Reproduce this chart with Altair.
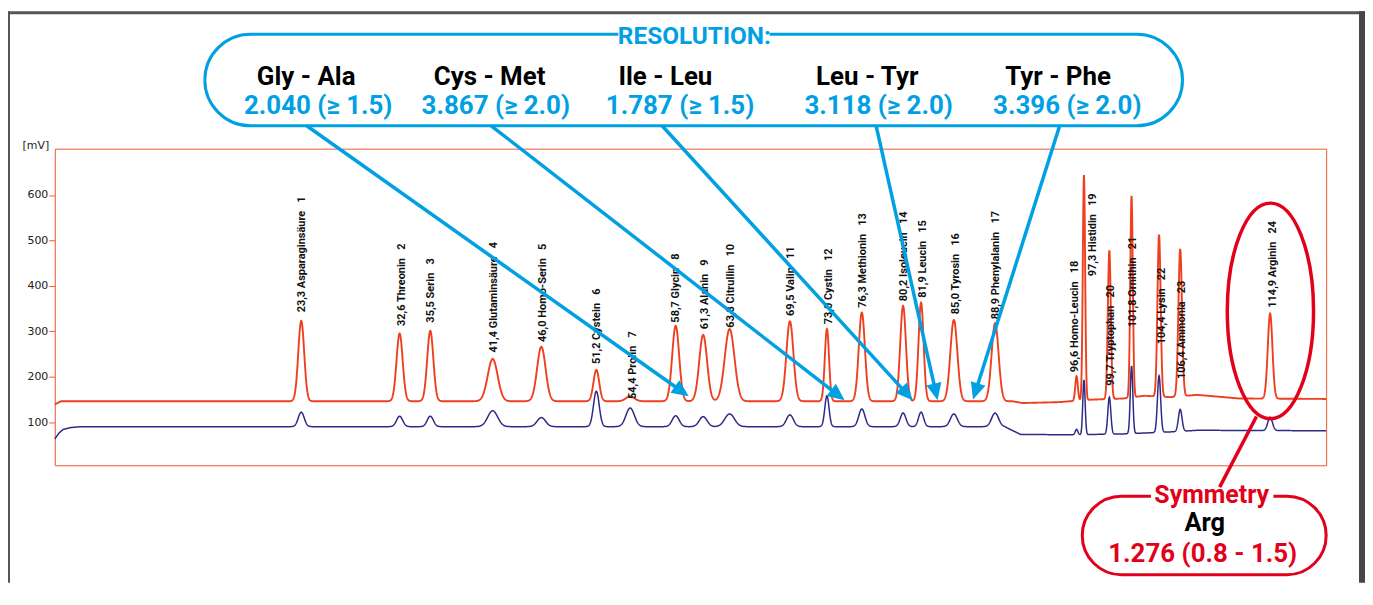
import numpy as np
import pandas as pd
import altair as alt

# ---------------- data ----------------
peak_num = list(range(1, 25))
peak_name = ["Asparaginsäure", "Threonin", "Serin", "Glutaminsäure", "Homo-Serin",
             "Cystein", "Prolin", "Glycin", "Alanin", "Citrullin", "Valin", "Cystin",
             "Methionin", "Isoleucin", "Leucin", "Tyrosin", "Phenylalanin",
             "Homo-Leucin", "Histidin", "Tryptophan", "Ornithin", "Lysin",
             "Ammonia", "Arginin"]
peak_time = [23.3, 32.6, 35.5, 41.4, 46.0, 51.2, 54.4, 58.7, 61.3, 63.8, 69.5, 73.0,
             76.3, 80.2, 81.9, 85.0, 88.9, 96.6, 97.3, 99.7, 101.8, 104.4, 106.4, 114.9]
red_height = [323, 295, 301, 239, 266, 215, 157, 312, 292, 305, 322, 305,
              341, 356, 363, 325, 318, 201, 644, 478, 598, 513, 481, 339]
blue_height = [122, 113, 113, 125, 110, 168, 131, 114, 112, 118, 116, 158,
               129, 120, 122, 118, 120, 84, 193, 155, 224, 202, 128, 111]
peak_sigma = [0.28, 0.29, 0.29, 0.47, 0.40, 0.27, 0.40, 0.33, 0.37, 0.46, 0.33, 0.20,
              0.29, 0.27, 0.24, 0.33, 0.33, 0.12, 0.11, 0.14, 0.12, 0.15, 0.17, 0.22]

red_base_t = [0, 0.6, 90.5, 91.5, 95, 97.5, 101, 103, 105.5, 108, 112, 120.2]
red_base_v = [139, 146, 146, 142, 144, 149, 152, 158, 155, 160, 152, 151]
blue_base_t = [0, 0.4, 0.8, 1.5, 2.5, 89.8, 90.5, 91.3, 96, 101, 103, 106, 108, 120.2]
blue_base_v = [63, 76, 84, 88, 90, 90, 82, 73, 72, 74, 76, 79, 82, 81]

# where each peak's label starts (minutes, mV)
label_t = [23.37, 32.78, 35.55, 41.51, 46.12, 51.23, 54.69, 58.76, 61.44, 63.91, 69.65,
           73.2, 76.4, 80.32, 82.05, 85.18, 89.02, 96.48, 98.17, 99.87, 101.97, 104.64,
           106.58, 115.15]
label_v = [341.6, 311.6, 319, 253.3, 276.5, 227.7, 151, 319, 304.3, 308, 333.5, 315.3,
           351.9, 366.3, 373.8, 337.2, 326.2, 210, 421, 180, 308.7, 271.5, 194.8, 351.9]

y_ticks = [100, 200, 300, 400, 500, 600]

res_pairs = ["Gly - Ala", "Cys - Met", "Ile - Leu", "Leu - Tyr", "Tyr - Phe"]
res_values = ["2.040 (≥ 1.5)", "3.867 (≥ 2.0)", "1.787 (≥ 1.5)", "3.118 (≥ 2.0)", "3.396 (≥ 2.0)"]

# ---------------- styles / layout ----------------
RED_TRACE = "#ee3f1f"
BLUE_TRACE = "#2e2a86"
FRAME = "#ec5a30"
ANN_BLUE = "#00a0e3"
ANN_RED = "#e2001a"
BOLD_FONT = "Roboto"
W, H = 1277, 318
T_MAX, V_MIN, V_MAX = 120.2, 5, 702


def dx(p):
    # plot-area pixel -> minutes (inverse of the x scale)
    return p * T_MAX / W


def dy(p):
    # plot-area pixel -> mV (inverse of the y scale)
    return V_MAX - p * (V_MAX - V_MIN) / H


# ---------------- build traces ----------------
t = np.round(np.arange(0, T_MAX + 1e-9, 0.02), 3)


def trace(bt, bv, heights):
    y = np.interp(t, bt, bv)
    for tp, h, s in zip(peak_time, heights, peak_sigma):
        amp = h - np.interp(tp, bt, bv)
        y = y + amp * np.exp(-0.5 * ((t - tp) / s) ** 2)
    return np.round(y, 2)


df_red = pd.DataFrame({"t": t, "v": trace(red_base_t, red_base_v, red_height)})
df_blue = pd.DataFrame({"t": t, "v": trace(blue_base_t, blue_base_v, blue_height)})

NB = "\u00a0"
df_lab = pd.DataFrame({
    "lt": label_t, "lv": label_v,
    "label": [f"{tm:.1f}".replace(".", ",") + " " + nm + NB * 3 + str(n)
              for tm, nm, n in zip(peak_time, peak_name, peak_num)],
})

xs = alt.Scale(domain=[0, T_MAX], nice=False, zero=False)
ys = alt.Scale(domain=[V_MIN, V_MAX], nice=False, zero=False)
YAX = alt.Axis(values=y_ticks, title=None, grid=False, domain=False, tickColor=FRAME,
               tickSize=6, tickWidth=1, labelPadding=1, labelFont="DejaVu Sans",
               labelFontSize=11, labelColor="#222")


def X(c):
    return alt.X(c + ":Q", scale=xs, axis=None)


def Y(c):
    # every layer carries the same axis definition so the shared axis stays visible
    return alt.Y(c + ":Q", scale=ys, axis=YAX)


red = alt.Chart(df_red).mark_line(color=RED_TRACE, strokeWidth=1.9).encode(
    x=X("t"), y=Y("v"))
blue = alt.Chart(df_blue).mark_line(color=BLUE_TRACE, strokeWidth=1.5).encode(
    x=X("t"), y=Y("v"))
labels = alt.Chart(df_lab).mark_text(angle=270, align="left", baseline="middle",
                                     font=BOLD_FONT, fontSize=11, fontWeight="bold",
                                     color="#111").encode(
    x=X("lt"), y=Y("lv"), text="label:N")

# ---------------- annotations (positions given in plot pixels, mapped to data) ----------------
frame_px = [(-47, 1316, -138, -135, "#555555"), (-47, -45, -138, 436, "#555555"),
            (1310, 1316, -138, 436, "#464646")]
frame_df = pd.DataFrame({"x": [dx(a) for a, _, _, _, _ in frame_px],
                         "x2": [dx(b) for _, b, _, _, _ in frame_px],
                         "y": [dy(c) for _, _, c, _, _ in frame_px],
                         "y2": [dy(d) for _, _, _, d, _ in frame_px],
                         "c": [e for *_, e in frame_px]})
frame = alt.Chart(frame_df).mark_rect().encode(
    x=X("x"), x2="x2:Q", y=Y("y"), y2="y2:Q", color=alt.Color("c:N", scale=None))

ylab = alt.Chart(pd.DataFrame({"x": [dx(-19)], "y": [dy(-3)], "s": ["[mV]"]})).mark_text(
    font="DejaVu Sans", fontSize=11, color="#222", align="center", baseline="middle"
).encode(x=X("x"), y=Y("y"), text="s:N")

arrow_start = [(253, -23), (438.3, -23), (610, -23), (825, -23), (1009.3, -23)]
arrow_tip = [(636.7, 248.7), (793.3, 252.7), (861.7, 252.7), (886.7, 252.7), (922.3, 252)]
rows = []
for (x0, y0), (x1, y1) in zip(arrow_start, arrow_tip):
    ddx, ddy = x1 - x0, y1 - y0
    L = np.hypot(ddx, ddy)
    ang = float(np.degrees(np.arctan2(ddx, -ddy)) % 360)
    rows.append({"x0": dx(x0), "y0": dy(y0),
                 "xe": dx(x1 - 10 * ddx / L), "ye": dy(y1 - 10 * ddy / L),
                 "tx": dx(x1), "ty": dy(y1), "ang": ang})
arr_df = pd.DataFrame(rows)
arrow_lines = alt.Chart(arr_df).mark_rule(color=ANN_BLUE, strokeWidth=3.5).encode(
    x=X("x0"), y=Y("y0"), x2="xe:Q", y2="ye:Q")
arrow_heads = alt.Chart(arr_df).mark_point(
    shape="M 0 0 L -0.45 1 L 0.45 1 Z", filled=True, size=1156, opacity=1,
    color=ANN_BLUE, strokeWidth=0).encode(
    x=X("tx"), y=Y("ty"), angle=alt.Angle("ang:Q", scale=None))

one = pd.DataFrame({"a": [0]})
res_box = alt.Chart(one).mark_rect(fillOpacity=0, stroke=ANN_BLUE, strokeWidth=3,
                                   cornerRadius=46).encode(
    x=alt.value(150.7), x2=alt.value(1132.7), y=alt.value(-115), y2=alt.value(-23))
sym_box = alt.Chart(one).mark_rect(fillOpacity=0, stroke=ANN_RED, strokeWidth=3,
                                   cornerRadius=39.5).encode(
    x=alt.value(1032), x2=alt.value(1277), y=alt.value(349), y2=alt.value(428))
knock_res = alt.Chart(one).mark_rect(color="white").encode(
    x=alt.value(566), x2=alt.value(718), y=alt.value(-121), y2=alt.value(-109))
knock_sym = alt.Chart(one).mark_rect(color="white").encode(
    x=alt.value(1101), x2=alt.value(1224), y=alt.value(343), y2=alt.value(355))

sym_line = alt.Chart(one).mark_rule(color=ANN_RED, strokeWidth=3.5).encode(
    x=alt.value(1207), y=alt.value(269), x2=alt.value(1170), y2=alt.value(340))

ellipse = alt.Chart(one).mark_point(
    shape=("M 0.4 0 C 0.4 0.5523 0.2209 1 0 1 C -0.2209 1 -0.4 0.5523 -0.4 0 "
           "C -0.4 -0.5523 -0.2209 -1 0 -1 C 0.2209 -1 0.4 -0.5523 0.4 0 Z"),
    filled=False, size=46920, opacity=1, color=ANN_RED, strokeWidth=3.5).encode(
    x=alt.value(1221), y=alt.value(163))

txt_px_x = [642.4, 252.5, 436.7, 613.3, 816, 1007.7, 264.6, 443, 628, 827.5, 1017,
            1162, 1155, 1153]
txt_px_y = [-104.7] + [-64] * 5 + [-35.3] * 5 + [356, 384.5, 415.3]
txt_df = pd.DataFrame({
    "x": [dx(v) for v in txt_px_x],
    "y": [dy(v) for v in txt_px_y],
    "s": ["RESOLUTION:"] + res_pairs + res_values + ["Symmetry", "Arg", "1.276 (0.8 - 1.5)"],
    "c": [ANN_BLUE] + ["#000000"] * 5 + [ANN_BLUE] * 5 + [ANN_RED, "#000000", ANN_RED],
    "fs": [24.5] + [26] * 5 + [26] * 5 + [25, 25.5, 26],
})
texts = alt.Chart(txt_df).mark_text(font=BOLD_FONT, fontWeight="bold", align="center",
                                    baseline="alphabetic").encode(
    x=X("x"), y=Y("y"), text="s:N", color=alt.Color("c:N", scale=None),
    size=alt.Size("fs:Q", scale=None))

chart = alt.layer(
    red, blue, labels, frame, ylab, arrow_lines, arrow_heads, res_box, sym_box,
    knock_res, knock_sym, sym_line, ellipse, texts
).properties(
    width=W, height=H,
    autosize=alt.AutoSizeParams(type="none"),
    padding={"left": 47, "top": 140, "right": 39, "bottom": 126},
).configure_view(stroke=FRAME, strokeWidth=1)

chart.save("out.html", embed_options={"renderer": "svg", "actions": False})
